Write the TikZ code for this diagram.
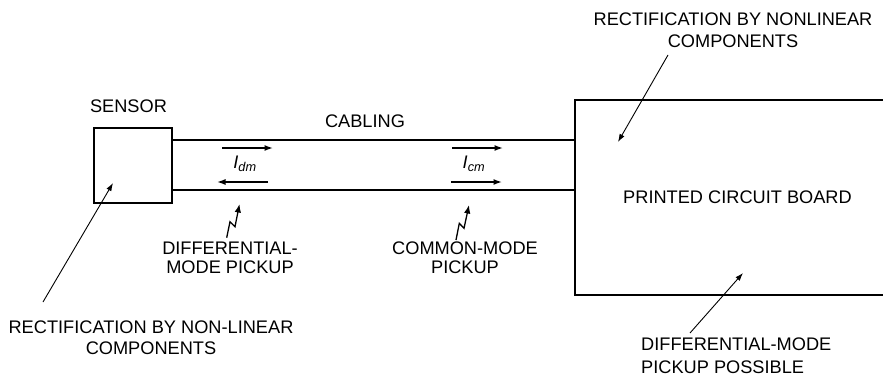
\documentclass[tikz,border=0pt]{standalone}
\usepackage{fontspec}
\setmainfont{Liberation Sans}
\usetikzlibrary{arrows.meta}
\begin{document}
\begin{tikzpicture}[x=1pt,y=-1pt,
  lbl/.style={inner sep=0pt,align=center,font=\fontsize{18.2}{21}\selectfont},
  box/.style={line width=1.8pt},
  wire/.style={line width=1.8pt},
  ptr/.style={line width=0.9pt,-{Latex[length=8pt,width=5.5pt]}},
  cur/.style={line width=1.4pt,-{Latex[length=8.5pt,width=6pt]}},
  zig/.style={line width=1.3pt,-{Latex[length=8.5pt,width=6.5pt]}}]
\useasboundingbox (0,0) rectangle (883,380);
% sensor
\node[box,draw,minimum width=78pt,minimum height=75pt,inner sep=0pt] (sensor) at (133,165.5) {};
\node[lbl] (sensorlbl) at (128.5,106) {SENSOR};
% PCB (open at right)
\coordinate (pcbtr) at (885,100);
\coordinate (pcbtl) at (575,100);
\coordinate (pcbbl) at (575,295);
\coordinate (pcbbr) at (885,295);
\draw[box,line join=miter] (pcbtr) -- (pcbtl) -- (pcbbl) -- (pcbbr);
% cables
\coordinate (c1a) at (172,140);
\coordinate (c1b) at (575,140);
\coordinate (c2a) at (172,190);
\coordinate (c2b) at (575,190);
\draw[wire] (c1a) -- (c1b);
\draw[wire] (c2a) -- (c2b);
\node[lbl] (cabling) at (365,121) {CABLING};
% currents
\coordinate (d1a) at (222,148); \coordinate (d1b) at (273,148);
\coordinate (d2a) at (268,182); \coordinate (d2b) at (217,182);
\draw[cur] (d1a) -- (d1b);
\draw[cur] (d2a) -- (d2b);
\node[lbl] (idm) at (245,164) {\itshape I\textsubscript{dm}};
\coordinate (m1a) at (452,148); \coordinate (m1b) at (503,148);
\coordinate (m2a) at (451,182); \coordinate (m2b) at (502,182);
\draw[cur] (m1a) -- (m1b);
\draw[cur] (m2a) -- (m2b);
\node[lbl] (icm) at (474,164) {\itshape I\textsubscript{cm}};
% pickups
\coordinate (z1) at (226.7,237.7);
\coordinate (z2) at (230,221.7);
\coordinate (z3) at (235,226.7);
\coordinate (z4) at (239.5,204);
\draw[zig] (z1) -- (z2) -- (z3) -- (z4);
\coordinate (y1) at (456,240);
\coordinate (y2) at (459.3,223.3);
\coordinate (y3) at (464,228.3);
\coordinate (y4) at (469,205);
\draw[zig] (y1) -- (y2) -- (y3) -- (y4);
\node[lbl,font=\fontsize{18.2}{18.5}\selectfont,anchor=north] (dmp) at (230,242) {DIFFERENTIAL-\\MODE PICKUP};
\node[lbl,font=\fontsize{18.2}{18.5}\selectfont,anchor=north] (cmp) at (465,242) {COMMON-MODE\\PICKUP};
\node[lbl] (pcb) at (737.5,197.5) {PRINTED CIRCUIT BOARD};
% rectifications
\node[lbl,font=\fontsize{18.2}{21}\selectfont,anchor=north] (rl) at (151,321) {RECTIFICATION BY NON-LINEAR\\COMPONENTS};
\coordinate (rlt) at (43,302);
\coordinate (rlh) at (113,183);
\draw[ptr] (rlt) -- (rlh);
\node[lbl,font=\fontsize{18.2}{22}\selectfont,anchor=north] (rr) at (733,13) {RECTIFICATION BY NONLINEAR\\COMPONENTS};
\coordinate (rrt) at (668,55);
\coordinate (rrh) at (618,142);
\draw[ptr] (rrt) -- (rrh);
\node[lbl,font=\fontsize{18.2}{23}\selectfont,align=left,anchor=north west] (dpp) at (641,338) {DIFFERENTIAL-MODE\\PICKUP POSSIBLE};
\coordinate (dpt) at (690,333);
\coordinate (dph) at (743,273);
\draw[ptr] (dpt) -- (dph);
\end{tikzpicture}
\end{document}
